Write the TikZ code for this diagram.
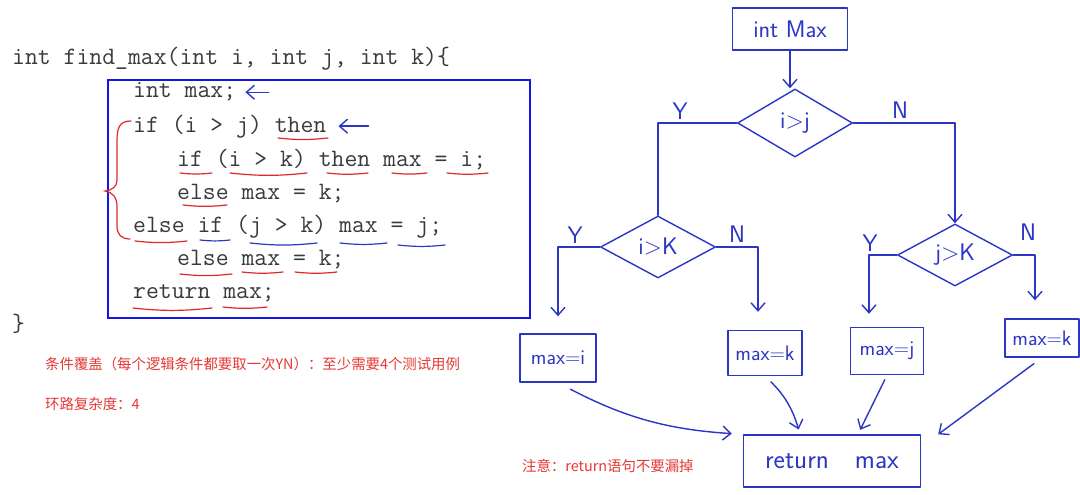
\documentclass[tikz,border=0pt]{standalone}
\usepackage{fontspec}
\newfontfamily\cjk{Noto Sans CJK SC}
\usetikzlibrary{shapes.geometric,arrows.meta}
\definecolor{penblue}{HTML}{2B36C4}
\definecolor{boxblue}{HTML}{1414E6}
\definecolor{penred}{HTML}{E02828}
\definecolor{notered}{HTML}{E53935}
\definecolor{codegray}{HTML}{3A3A3A}

\begin{document}
\begin{tikzpicture}[x=1pt, y=-1pt,
    >={Straight Barb[length=8pt,width=14pt]},
    code/.style={anchor=base west, inner sep=0pt, text=codegray, font=\ttfamily\fontsize{25}{25}\selectfont},
    pen/.style={penblue, line width=1.4pt, line cap=round, line join=round},
    flow/.style={pen, ->},
    hand/.style={text=penblue, font=\sffamily\fontsize{24}{24}\selectfont},
    handbox/.style={pen, draw, hand, rectangle, inner sep=0pt},
    decision/.style={pen, draw, hand, diamond, inner sep=0pt, minimum width=115pt},
    yn/.style={anchor=base, inner sep=0pt, text=penblue, font=\sffamily\fontsize{24}{24}\selectfont},
    redmark/.style={penred, line width=1.2pt, line cap=round},
    bluemark/.style={pen, line width=1.2pt},
    note/.style={anchor=west, inner sep=0pt, text=notered, font=\cjk\fontsize{14.4}{14.4}\selectfont}]

    \path[use as bounding box, fill=white] (0,0) rectangle (1080,495);

    % code
    \node[code] (fn) at (12,65) {int find\_max(int i, int j, int k)\{};
    \node[code] (l1) at (133,98) {int max;};
    \node[code] (l2) at (133,132) {if (i > j) then};
    \node[code] (l3) at (177,166) {if (i > k) then max = i;};
    \node[code] (l4) at (177,199) {else max = k;};
    \node[code] (l5) at (133,232) {else if (j > k) max = j;};
    \node[code] (l6) at (177,265) {else max = k;};
    \node[code] (l7) at (133,298) {return max;};
    \node[code] (close) at (12,331) {\}};

    % function body box
    \draw[boxblue, line width=2pt] (108,80) rectangle (530,318);

    % marks on the code
    \draw[pen, <-] ([xshift=9pt]l1.east) -- ++(23,0);
    \draw[pen, <-] ([xshift=12pt]l2.east) -- ++(30,0);
    \draw[redmark] (131,121) .. controls (119,121) and (117,128) .. (117,142) -- (117,180)
        .. controls (117,187) and (112,190) .. (105,191) .. controls (112,192) and (117,197) .. (117,206)
        -- (117,226) .. controls (117,234) and (121,239) .. (130,239);
    \foreach \a/\b/\y in {278/328/138, 180/212/173, 230/307/173, 327/368/173, 392/427/173,
        447/488/173, 183/227/205, 135/187/241, 180/232/274, 242/283/272, 295/337/272,
        133/212/308, 223/267/307}
        \draw[redmark] (\a,\y) to[bend right=6] (\b,\y);
    \foreach \a/\b/\y in {200/230/240, 250/317/243, 340/387/243, 398/445/245}
        \draw[bluemark] (\a,\y) to[bend right=6] (\b,\y);

    % notes
    \node[note] (cover) at (45,364) {条件覆盖（每个逻辑条件都要取一次YN）：至少需要4个测试用例};
    \node[note] (cc) at (45,404) {环路复杂度：4};
    \node[note] (warn) at (522,466) {注意：return语句不要漏掉};

    % flow chart
    \node[handbox, minimum width=115pt, minimum height=42pt] (start) at (790,29) {int Max};
    \node[decision, minimum height=68pt] (dij) at (795,123) {i>j};
    \node[decision, minimum height=62pt] (dik) at (658,247) {i>K};
    \node[decision, minimum height=62pt] (djk) at (955,255) {j>K};

    \node[handbox, minimum width=76pt, minimum height=48pt, font=\sffamily\fontsize{21}{21}\selectfont] (mi) at (558,358) {max=i};
    \node[handbox, minimum width=74pt, minimum height=45pt, font=\sffamily\fontsize{21}{21}\selectfont] (mk1) at (765,353) {max=k};
    \node[handbox, minimum width=73pt, minimum height=47pt, font=\sffamily\fontsize{21}{21}\selectfont] (mj) at (887,351) {max=j};
    \node[handbox, minimum width=74pt, minimum height=38pt, font=\sffamily\fontsize{21}{21}\selectfont] (mk2) at (1042,338) {max=k};
    \node[handbox, minimum width=177pt, minimum height=52pt, font=\sffamily\fontsize{27}{27}\selectfont] (rt) at (832,461) {return\hspace{26pt}max};

    \draw[flow] (start.south) -- (start.south |- dij.north);
    \draw[pen] (dij.west) -| (dik.north);
    \draw[flow] (dij.east) -| (djk.north);
    \draw[flow, shorten >=17pt] (dik.west) -| (mi.north);
    \draw[flow, shorten >=18pt] (dik.east) -| ([xshift=-7pt]mk1.north);
    \draw[flow, shorten >=13pt] (djk.west) -| ([xshift=-18pt]mj.north);
    \draw[flow, shorten >=18pt] (djk.east) -| ([xshift=-7pt]mk2.north);

    % Y / N
    \node[yn] (y1) at (680,119) {Y};
    \node[yn] (n1) at (900,118) {N};
    \node[yn] (y2) at (575,243) {Y};
    \node[yn] (n2) at (737,242) {N};
    \node[yn] (y3) at (870,251) {Y};
    \node[yn] (n3) at (1028,240) {N};

    % into return
    \draw[flow, shorten <=14pt, shorten >=11pt] (mi.south) to[bend right=12] (rt.north west);
    \draw[flow, shorten <=8pt, shorten >=5pt] (mk1.south) to[bend left=15] ([xshift=-32pt]rt.north);
    \draw[flow, shorten <=5pt, shorten >=5pt] (mj.south) -- ([xshift=26pt]rt.north);
    \draw[flow, shorten <=10pt] (mk2.south) -- ([xshift=17pt]rt.north east);

\end{tikzpicture}
\end{document}
